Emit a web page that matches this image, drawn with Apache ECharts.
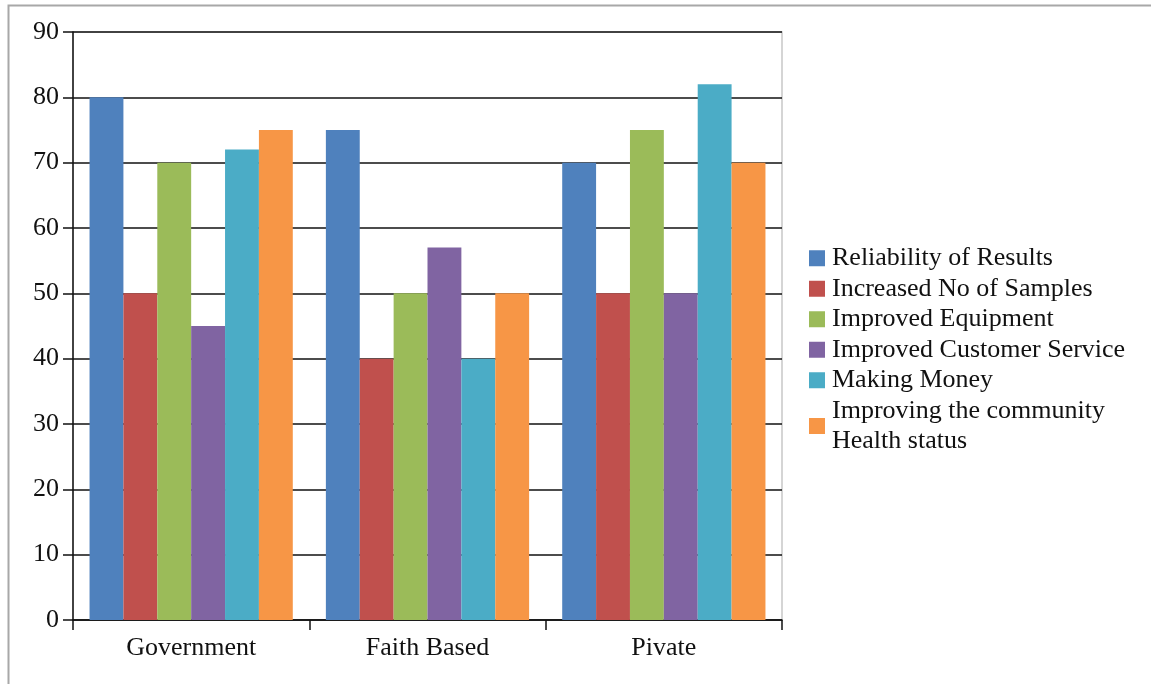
<!DOCTYPE html>
<html>
<head>
<meta charset="utf-8">
<script src="https://cdn.jsdelivr.net/npm/echarts@6/dist/echarts.min.js"></script>
<style>
  html, body { margin: 0; padding: 0; background: #fff; }
  #chart { width: 1151px; height: 684px; }
</style>
</head>
<body>
<div id="chart"></div>
<script>
// Categories along the x axis
const categories = ['Government', 'Faith Based', 'Pivate'];

// One series per motivation, values per category
const reliabilityOfResults = [80, 75, 70];
const increasedSamples = [50, 40, 50];
const improvedEquipment = [70, 50, 75];
const improvedCustomerService = [45, 57, 50];
const makingMoney = [72, 40, 82];
const improvingHealthStatus = [75, 50, 70];

const seriesNames = [
  'Reliability of Results',
  'Increased No of Samples',
  'Improved Equipment',
  'Improved Customer Service',
  'Making Money',
  'Improving the community\nHealth status'
];
const seriesValues = [
  reliabilityOfResults,
  increasedSamples,
  improvedEquipment,
  improvedCustomerService,
  makingMoney,
  improvingHealthStatus
];
const colors = ['#4F81BD', '#C0504D', '#9BBB59', '#8064A2', '#4BACC6', '#F79646'];

// y axis range
const yMin = 0, yMax = 90, yStep = 10;

const serif = '"Liberation Serif", "DejaVu Serif", serif';

const chart = echarts.init(document.getElementById('chart'), null, { renderer: 'canvas' });

chart.setOption({
  animation: false,
  backgroundColor: '#fff',
  color: colors,
  textStyle: { fontFamily: serif },
  graphic: [{
    type: 'rect',
    shape: { x: 8.5, y: 5.5, width: 1300, height: 800 },
    style: { fill: 'none', stroke: '#a8a8a8', lineWidth: 2 },
    silent: true,
    z: -1
  }],
  grid: {
    left: 73, top: 32, right: 369, bottom: 64,
    show: true, borderColor: '#c8c8c8', borderWidth: 1.5, backgroundColor: 'transparent'
  },
  legend: {
    orient: 'vertical',
    left: 804,
    top: 238,
    itemWidth: 16,
    itemHeight: 16,
    itemGap: 0,
    icon: 'rect',
    textStyle: { fontFamily: serif, fontSize: 26, color: '#111', lineHeight: 30.5, padding: [0, 0, 0, 2] },
    data: seriesNames
  },
  xAxis: {
    type: 'category',
    data: categories,
    axisLine: { lineStyle: { color: '#111', width: 1.5 } },
    axisTick: { show: true, length: 10, lineStyle: { color: '#111', width: 1.5 } },
    axisLabel: { fontFamily: serif, fontSize: 26, color: '#111', margin: 15 }
  },
  yAxis: {
    type: 'value',
    min: yMin, max: yMax, interval: yStep,
    axisLine: { show: true, lineStyle: { color: '#111', width: 1.5 } },
    axisTick: { show: true, length: 10, lineStyle: { color: '#111', width: 1.5 } },
    axisLabel: { fontFamily: serif, fontSize: 26, color: '#111', margin: 14 },
    splitLine: { show: true, lineStyle: { color: '#111', width: 1.5 } }
  },
  series: seriesNames.map((name, i) => ({
    name: name,
    type: 'bar',
    data: seriesValues[i],
    barGap: '0%',
    barCategoryGap: '14%',
    itemStyle: { color: colors[i] }
  }))
});
</script>
</body>
</html>
